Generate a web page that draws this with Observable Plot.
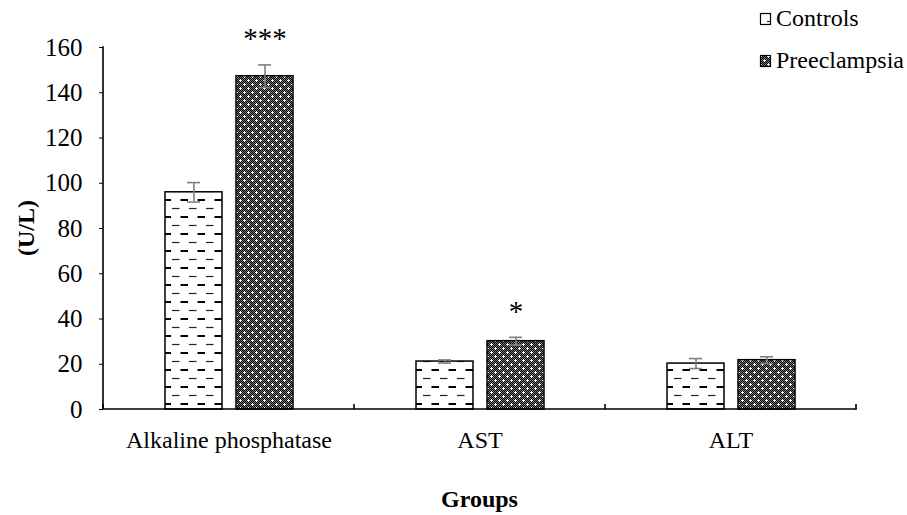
<!DOCTYPE html>
<html><head><meta charset="utf-8">
<script src="https://cdn.jsdelivr.net/npm/d3@7"></script>
<script src="https://cdn.jsdelivr.net/npm/@observablehq/plot@0.6"></script>
<style>html,body{margin:0;background:#fff} #chart svg{display:block}</style>
</head><body><div id="chart"></div>
<script>
const groups = ["Alkaline phosphatase", "AST", "ALT"];
const seriesNames = ["Controls", "Preeclampsia"];
const controlsMean = [96.0, 21.2, 20.3];
const controlsErr = [4.3, 0.7, 2.2];
const preeclampsiaMean = [147.3, 30.2, 21.8];
const preeclampsiaErr = [5.0, 1.7, 1.5];
const significance = ["***", "*", ""];
const yTicks = [0, 20, 40, 60, 80, 100, 120, 140, 160];
const yLabel = "(U/L)";
const xLabel = "Groups";

const rows = groups.flatMap((g, i) => [
  {group: g, series: seriesNames[0], mean: controlsMean[i], err: controlsErr[i], sig: ""},
  {group: g, series: seriesNames[1], mean: preeclampsiaMean[i], err: preeclampsiaErr[i], sig: significance[i]}
]);

const font = "'Liberation Serif', 'Times New Roman', serif";
const errColor = "#7f7f7f";

const plot = Plot.plot({
  width: 907, height: 515,
  marginLeft: 103, marginRight: 51, marginTop: 47, marginBottom: 106,
  style: {fontFamily: font, fontSize: "24px", color: "#000", background: "#fff", overflow: "visible"},
  fx: {domain: groups, padding: 0, label: null, axis: "bottom", tickSize: 0, tickPadding: 21},
  x: {domain: seriesNames, paddingInner: 14 / 71, paddingOuter: 0.866, axis: null},
  y: {domain: [0, 160], ticks: yTicks, tickSize: 4, tickPadding: 17, label: null},
  color: {type: "ordinal", domain: seriesNames, range: ["url(#pat-controls)", "url(#pat-pre)"]},
  marks: [
    Plot.barY(rows, {fx: "group", x: "series", y: "mean", fill: "series", stroke: "#000", strokeWidth: 1.5}),
    Plot.ruleX(rows, {fx: "group", x: "series", y1: d => d.mean - d.err, y2: d => d.mean + d.err, stroke: errColor, strokeWidth: 1.6}),
    Plot.tickY(rows, {fx: "group", x: "series", y: d => d.mean + d.err, stroke: errColor, strokeWidth: 1.6, inset: 22}),
    Plot.tickY(rows, {fx: "group", x: "series", y: d => d.mean - d.err, stroke: errColor, strokeWidth: 1.6, inset: 22}),
    Plot.text(rows.filter(d => d.sig), {fx: "group", x: "series", y: d => d.mean + d.err, text: "sig", dy: -26, fontSize: 29, fill: "#000"})
  ]
});

const svg = d3.select(plot);
const defs = svg.insert("defs", ":first-child");
// Controls: white with staggered horizontal dashes
const pc = defs.append("pattern").attr("id", "pat-controls").attr("patternUnits", "userSpaceOnUse")
  .attr("width", 17).attr("height", 17);
pc.append("rect").attr("width", 17).attr("height", 17).attr("fill", "#fff");
pc.append("line").attr("x1", 2).attr("x2", 9.5).attr("y1", 4.5).attr("y2", 4.5).attr("stroke", "#222").attr("stroke-width", 1.2);
pc.append("line").attr("x1", 10.5).attr("x2", 17).attr("y1", 13).attr("y2", 13).attr("stroke", "#000").attr("stroke-width", 2);
pc.append("line").attr("x1", 0).attr("x2", 1).attr("y1", 13).attr("y2", 13).attr("stroke", "#000").attr("stroke-width", 2);
// Preeclampsia: fine checkerboard with white crosses
const pp = defs.append("pattern").attr("id", "pat-pre").attr("patternUnits", "userSpaceOnUse")
  .attr("width", 8).attr("height", 8);
pp.append("rect").attr("width", 8).attr("height", 8).attr("fill", "#777");
const plus = new Set(["4,3","3,4","4,4","5,4","4,5","0,7","7,0","0,0","1,0","0,1"]);
let dBlack = "", dWhite = "";
for (let yy = 0; yy < 8; yy++) for (let xx = 0; xx < 8; xx++) {
  const k = xx + "," + yy;
  if (plus.has(k)) dWhite += `M${xx},${yy}h1v1h-1z`;
  else if ((xx + yy) % 2 === 0) dBlack += `M${xx},${yy}h1v1h-1z`;
}
pp.append("path").attr("d", dBlack).attr("fill", "#000");
pp.append("path").attr("d", dWhite).attr("fill", "#fff");

// Larger y tick labels
svg.selectAll("text").filter(function () { return yTicks.map(String).includes(this.textContent); })
  .attr("font-size", 25);

// Axis lines using the plot's scales
const fxS = plot.scale("fx"), yS = plot.scale("y");
const xa = Math.min(...fxS.range), xb = Math.max(...fxS.range);
const y0 = yS.apply(0), yTop = yS.apply(160);
const step = (xb - xa) / groups.length;
const axisG = svg.append("g").attr("stroke", "#000").attr("stroke-width", 1.6).attr("fill", "none");
axisG.append("path").attr("d", `M${xa},${yTop}V${y0}H${xb}`).attr("stroke-linecap", "square");
for (let i = 0; i <= groups.length; i++) {
  axisG.append("line").attr("x1", xa + i * step).attr("x2", xa + i * step).attr("y1", y0).attr("y2", y0 - 5);
}

// Axis titles
svg.append("text").attr("transform", `translate(34,${(y0 + yTop) / 2}) rotate(-90)`)
  .attr("text-anchor", "middle").attr("font-weight", "bold").attr("font-size", 24).attr("fill", "#000").text(yLabel);
svg.append("text").attr("x", (xa + xb) / 2).attr("y", 507)
  .attr("text-anchor", "middle").attr("font-weight", "bold").attr("font-size", 24).attr("fill", "#000").text(xLabel);

// Legend
const colorS = plot.scale("color");
const leg = svg.append("g").attr("text-anchor", "start");
seriesNames.forEach((s, i) => {
  leg.append("rect").attr("x", 760.5).attr("y", 13.5 + i * 42).attr("width", 10).attr("height", 11)
    .attr("fill", colorS.apply(s)).attr("stroke", "#000").attr("stroke-width", 1.2);
  leg.append("text").attr("x", 776).attr("y", 26 + i * 42).attr("text-anchor", "start")
    .attr("font-size", 24).attr("fill", "#000").text(s);
});

document.getElementById("chart").appendChild(plot);
</script></body></html>
